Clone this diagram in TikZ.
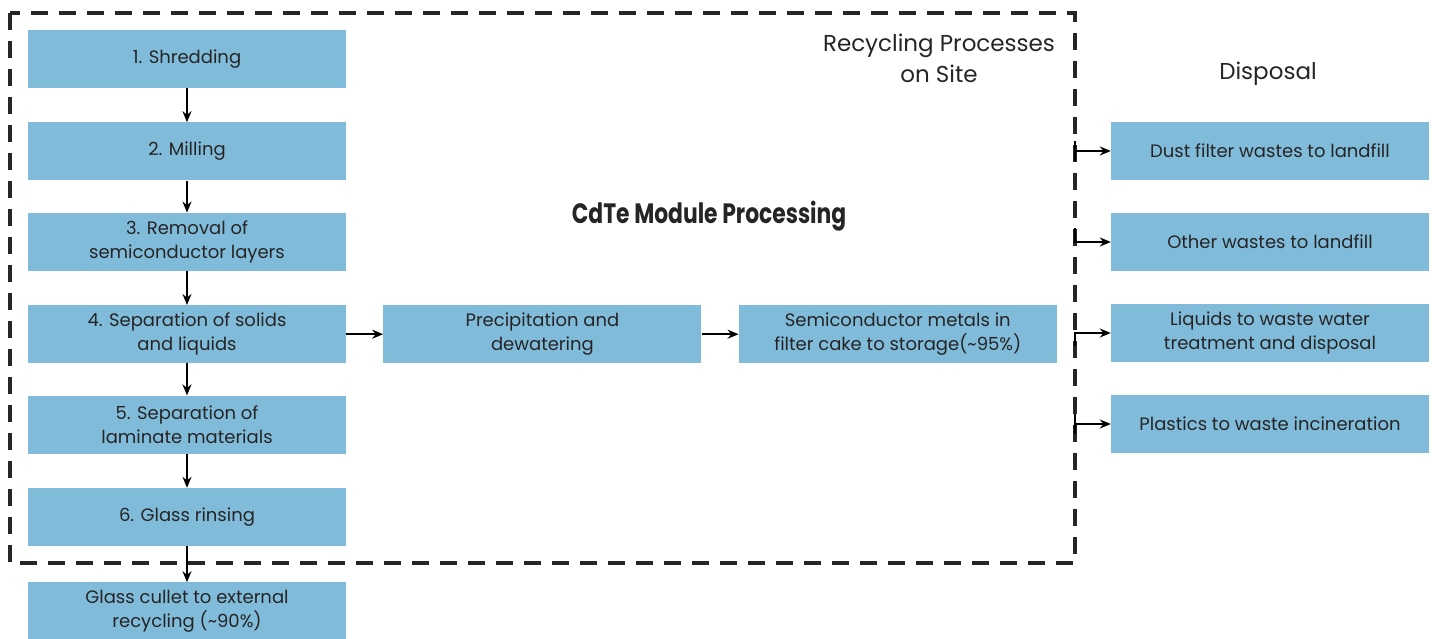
\documentclass[tikz,border=0pt]{standalone}
\usepackage{fontspec}
\setmainfont{Poppins}
\usepackage{graphicx}
\usetikzlibrary{arrows.meta, positioning}
\definecolor{boxblue}{RGB}{128,188,218}
\definecolor{inkgray}{RGB}{38,36,37}

\begin{document}
\begin{tikzpicture}[
    x=1pt, y=-1pt,
    node distance=34pt and 37pt,
    >={Stealth[length=11pt, width=9pt]},
    box/.style={rectangle, fill=boxblue, text=inkgray, minimum width=318pt, minimum height=58pt, inner sep=0pt, align=center, font=\fontsize{18}{24}\selectfont},
    flow/.style={->, line width=2pt, black},
    frame/.style={draw=black!85, line width=3.2pt, dash pattern=on 17pt off 11pt},
    head/.style={text=inkgray, align=center, font=\fontsize{23}{31}\selectfont}
  ]
    \useasboundingbox (0,0) rectangle (1432,639);
    \draw[frame] (10,13) rectangle (1075,563);

    % process chain on site
    \node[box] (shred) at (187,59) {1. Shredding};
    \node[box, below=of shred] (mill) {2. Milling};
    \node[box, below=32pt of mill] (strip) {3. Removal of\\semiconductor layers};
    \node[box, below=of strip] (sep) {4. Separation of solids\\and liquids};
    \node[box, below=32pt of sep] (lam) {5. Separation of\\laminate materials};
    \node[box, below=of lam] (rinse) {6. Glass rinsing};
    \node[box, below=36pt of rinse] (cullet) {Glass cullet to external\\recycling (\textasciitilde 90\%)};
    \node[box, right=of sep] (prec) {Precipitation and\\dewatering};
    \node[box, right=of prec] (cake) {Semiconductor metals in\\filter cake to storage(\textasciitilde 95\%)};

    \draw[flow] (shred) -- (mill);
    \draw[flow] (mill) -- (strip);
    \draw[flow] (strip) -- (sep);
    \draw[flow] (sep) -- (lam);
    \draw[flow] (lam) -- (rinse);
    \draw[flow] (rinse) -- (cullet);
    \draw[flow] (sep) -- (prec);
    \draw[flow] (prec) -- (cake);

    % disposal
    \node[box] (dust) at (1270,151) {Dust filter wastes to landfill};
    \node[box] (other) at (1270,242) {Other wastes to landfill};
    \node[box] (liquid) at (1270,333) {Liquids to waste water\\treatment and disposal};
    \node[box] (plastic) at (1270,424) {Plastics to waste incineration};

    \coordinate (d1) at (1075,151);
    \coordinate (o1) at (1075,228);
    \coordinate (l1) at (1075,346);
    \coordinate (p1) at (1075,424);
    \draw[line width=2pt] (1075,141) -- (1075,161);
    \draw[line width=2pt] (1075,414) -- (1075,434);
    \draw[flow] (d1) -- (dust);
    \draw[flow] (o1) |- (other.west);
    \draw[flow] (l1) |- (liquid.west);
    \draw[flow] (p1) -- (plastic);

    % headings
    \node[head] (site) at (939,58) {Recycling Processes\\on Site};
    \node[head] (disp) at (1268,74) {Disposal};
    \node[text=inkgray, font=\bfseries\fontsize{28}{32}\selectfont] (title) at (709,216) {\scalebox{0.78}[1]{CdTe Module Processing}};
  \end{tikzpicture}
\end{document}
